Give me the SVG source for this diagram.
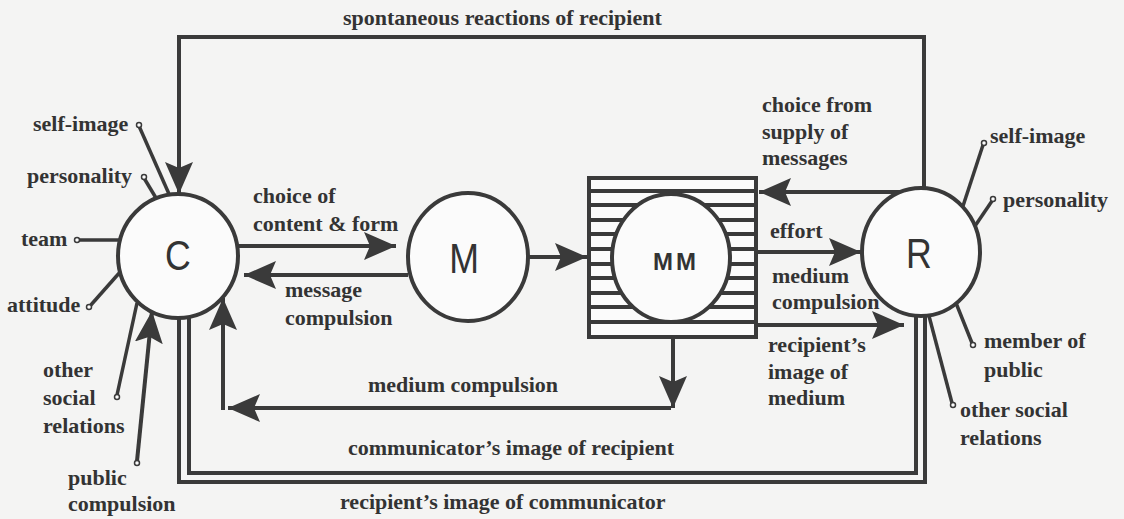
<svg xmlns="http://www.w3.org/2000/svg" width="1124" height="519" viewBox="0 0 1124 519">
<style>
.bg{fill:#f4f4f3}
.ln{fill:none;stroke:#3a3a3a;stroke-width:4}
.thin{fill:none;stroke:#3a3a3a;stroke-width:3.5}
.node{fill:#fbfbfb;stroke:#3a3a3a;stroke-width:4}
.dot{fill:#fbfbfb;stroke:#3a3a3a;stroke-width:1.5}
.lbl{font-family:"Liberation Serif","Times New Roman",serif;font-weight:bold;font-size:22px;fill:#333}
.big{font-family:"Liberation Sans",Arial,sans-serif;font-size:42px;fill:#333;text-anchor:middle}
.mm{font-family:"Liberation Sans",Arial,sans-serif;font-weight:bold;font-size:24px;fill:#333;text-anchor:middle;letter-spacing:3px}
</style>
<defs>
<marker id="ah" markerUnits="userSpaceOnUse" markerWidth="34" markerHeight="30" refX="32" refY="14" orient="auto">
<path d="M0,0 L32,14 L0,28 L6,14 Z" fill="#3a3a3a"/>
</marker>
</defs>
<rect class="bg" x="0" y="0" width="1124" height="519"/>

<g id="connectors">
<!-- top feedback -->
<path class="ln" d="M924,188 V37 H179 V194" marker-end="url(#ah)"/>
<!-- choice from supply -->
<path class="ln" d="M901,192 H759" marker-end="url(#ah)"/>
<!-- effort -->
<path class="ln" d="M758,252 H861" marker-end="url(#ah)"/>
<!-- medium compulsion / recipient's image -->
<path class="ln" d="M758,325 H904" marker-end="url(#ah)"/>
<!-- M to MM -->
<path class="ln" d="M528,257 H587" marker-end="url(#ah)"/>
<!-- C to M -->
<path class="ln" d="M238,246 H396" marker-end="url(#ah)"/>
<!-- M to C -->
<path class="ln" d="M408,275 H244" marker-end="url(#ah)"/>
<!-- MM down -->
<path class="ln" d="M673,338 V408" marker-end="url(#ah)"/>
<!-- bottom medium compulsion -->
<path class="ln" d="M671,408 H228" marker-end="url(#ah)"/>
<path class="ln" d="M223,410 V298" marker-end="url(#ah)"/>
<!-- double lines -->
<path class="ln" d="M179,318 V482 H925 V316"/>
<path class="ln" d="M189,317 V473 H916 V316"/>
<!-- left influences -->
<line class="thin" x1="139" y1="126" x2="169" y2="194"/>
<line class="thin" x1="144" y1="178" x2="156" y2="198"/>
<line class="thin" x1="79" y1="240" x2="119" y2="240"/>
<line class="thin" x1="90" y1="306" x2="121" y2="271"/>
<line class="thin" x1="117" y1="395" x2="137" y2="303"/>
<path class="ln" d="M137,461 L152,311" marker-end="url(#ah)"/>
<!-- right influences -->
<line class="thin" x1="983" y1="145" x2="963" y2="206"/>
<line class="thin" x1="992" y1="201" x2="975" y2="226"/>
<line class="thin" x1="956" y1="303" x2="972" y2="343"/>
<line class="thin" x1="929" y1="316" x2="952" y2="403"/>
</g>

<g id="dots">
<circle class="dot" cx="139" cy="125" r="2.5"/>
<circle class="dot" cx="144" cy="177" r="2.5"/>
<circle class="dot" cx="77" cy="240" r="2.5"/>
<circle class="dot" cx="89" cy="307" r="2.5"/>
<circle class="dot" cx="117" cy="397" r="2.5"/>
<circle class="dot" cx="137" cy="463" r="2.5"/>
<circle class="dot" cx="984" cy="143" r="2.5"/>
<circle class="dot" cx="993" cy="199" r="2.5"/>
<circle class="dot" cx="973" cy="345" r="2.5"/>
<circle class="dot" cx="953" cy="405" r="2.5"/>
</g>

<g id="node-C">
<ellipse class="node" cx="178" cy="256" rx="60" ry="62"/>
<text class="big" transform="translate(178,270) scale(0.85,1)" x="0" y="0">C</text>
</g>
<g id="node-M">
<ellipse class="node" cx="468" cy="257" rx="60" ry="64"/>
<text class="big" transform="translate(464,273) scale(0.85,1)" x="0" y="0">M</text>
</g>
<g id="node-MM">
<rect x="589" y="178" width="167" height="159" fill="#fbfbfb" stroke="#3a3a3a" stroke-width="4"/>
<g stroke="#3a3a3a" stroke-width="4">
<line x1="589" y1="191" x2="756" y2="191"/>
<line x1="589" y1="205" x2="756" y2="205"/>
<line x1="589" y1="220" x2="756" y2="220"/>
<line x1="589" y1="234" x2="756" y2="234"/>
<line x1="589" y1="249" x2="756" y2="249"/>
<line x1="589" y1="264" x2="756" y2="264"/>
<line x1="589" y1="278" x2="756" y2="278"/>
<line x1="589" y1="293" x2="756" y2="293"/>
<line x1="589" y1="307" x2="756" y2="307"/>
<line x1="589" y1="322" x2="756" y2="322"/>
</g>
<ellipse class="node" cx="671" cy="258" rx="59" ry="64"/>
<text class="mm" x="676" y="270">MM</text>
</g>
<g id="node-R">
<ellipse class="node" cx="921" cy="252" rx="59" ry="64"/>
<text class="big" transform="translate(919,268) scale(0.85,1)" x="0" y="0">R</text>
</g>

<g id="labels">
<text class="lbl" x="343" y="25">spontaneous reactions of recipient</text>
<text class="lbl" x="33" y="131">self-image</text>
<text class="lbl" x="27" y="183">personality</text>
<text class="lbl" x="21" y="246">team</text>
<text class="lbl" x="7" y="312">attitude</text>
<text class="lbl" x="43" y="377">other</text>
<text class="lbl" x="43" y="405">social</text>
<text class="lbl" x="43" y="433">relations</text>
<text class="lbl" x="68" y="485">public</text>
<text class="lbl" x="68" y="511">compulsion</text>
<text class="lbl" x="253" y="203">choice of</text>
<text class="lbl" x="253" y="231">content &amp; form</text>
<text class="lbl" x="285" y="297">message</text>
<text class="lbl" x="285" y="325">compulsion</text>
<text class="lbl" x="762" y="112">choice from</text>
<text class="lbl" x="762" y="139">supply of</text>
<text class="lbl" x="762" y="165">messages</text>
<text class="lbl" x="770" y="238">effort</text>
<text class="lbl" x="772" y="283">medium</text>
<text class="lbl" x="772" y="309">compulsion</text>
<text class="lbl" x="768" y="352">recipient’s</text>
<text class="lbl" x="768" y="379">image of</text>
<text class="lbl" x="768" y="405">medium</text>
<text class="lbl" x="368" y="392">medium compulsion</text>
<text class="lbl" x="348" y="455">communicator’s image of recipient</text>
<text class="lbl" x="340" y="509">recipient’s image of communicator</text>
<text class="lbl" x="990" y="143">self-image</text>
<text class="lbl" x="1003" y="207">personality</text>
<text class="lbl" x="984" y="348">member of</text>
<text class="lbl" x="984" y="377">public</text>
<text class="lbl" x="960" y="417">other social</text>
<text class="lbl" x="960" y="445">relations</text>
</g>
</svg>
